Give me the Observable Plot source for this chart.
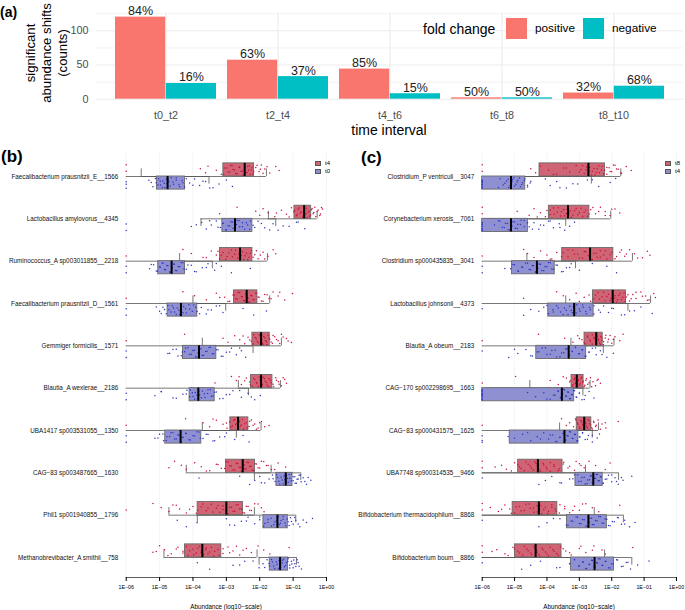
<!DOCTYPE html>
<html><head><meta charset="utf-8">
<script src="https://cdn.jsdelivr.net/npm/d3@7"></script>
<script src="https://cdn.jsdelivr.net/npm/@observablehq/plot@0.6"></script>
<style>
body{margin:0;background:#fff;font-family:"Liberation Sans",Arial,Helvetica,sans-serif;}
#root{position:relative;width:685px;height:610px;overflow:hidden;background:#fff;}
.abs{position:absolute;white-space:nowrap;}
.abs svg{display:block;}
</style></head><body><div id="root"></div>
<script>
// ---------- Panel (a) data ----------
const intervals = ["t0_t2","t2_t4","t4_t6","t6_t8","t8_t10"];
const positiveCounts = [120,57,44,2,9];
const negativeCounts = [23,33,8,2,19];
const countTicks = [0,50,100];
const minorCountTicks = [25,75,125];

// ---------- Panel (b)/(c) shared ----------
const decadeTicks = [1e-6,1e-5,1e-4,1e-3,1e-2,1e-1,1];
const decadeLabels = ["1E\u221206","1E\u221205","1E\u221204","1E\u221203","1E\u221202","1E\u221201","1E+00"];

// ---------- Panel (b): t4 (upper, red) vs t0 (lower, blue); log10 abundance ----------
const bSpecies = ["Faecalibacterium prausnitzii_E__1566","Lactobacillus amylovorus__4345","Ruminococcus_A sp003011855__2218","Faecalibacterium prausnitzii_D__1561","Gemmiger formicilis__1571","Blautia_A wexlerae__2186","UBA1417 sp003531055__1350","CAG\u221283 sp003487665__1630","Phil1 sp001940855__1796","Methanobrevibacter_A smithii__758"];
// [whisker low, Q1, median, Q3, whisker high]
const bT4Box = [[-5.55,-3.09,-2.45,-2.17,-1.8],[-1.74,-0.96,-0.67,-0.46,-0.28],[-4.4,-3.19,-2.59,-2.22,-1.77],[-4.0,-2.77,-2.39,-2.07,-1.7],[-3.72,-2.22,-1.96,-1.70,-1.35],[-2.64,-2.26,-1.96,-1.62,-1.38],[-3.72,-2.88,-2.65,-2.34,-1.96],[-4.2,-3.01,-2.51,-2.14,-1.66],[-4.72,-3.86,-3.0,-2.50,-2.16],[-4.87,-4.24,-3.72,-3.15,-2.08]];
const bT0Box = [[-6,-5.08,-4.76,-4.24,-3.52],[-3.76,-3.12,-2.74,-2.22,-1.52],[-6,-5.04,-4.64,-4.24,-3.42],[-6,-4.76,-4.36,-3.87,-3.02],[-6,-4.30,-3.82,-3.30,-2.2],[-6,-4.10,-3.84,-3.35,-2.34],[-6,-4.83,-4.37,-3.75,-2.70],[-2.16,-1.5,-1.22,-1.02,-0.77],[-3.87,-1.89,-1.47,-1.16,-0.92],[-2.02,-1.70,-1.39,-1.15,-0.9]];
const bT4Pts = [
[-6,-6,-3.78,-3.62,-3.55,-3.3,-3.15,-3.05,-2.95,-2.88,-2.8,-2.72,-2.6,-2.52,-2.47,-2.44,-2.38,-2.31,-2.25,-2.2,-2.12,-2.02,-1.95,-1.85,-1.7,-1.52,-1.42,-3.08,-2.98,-2.9,-2.83,-2.76,-2.68,-2.62,-2.56,-2.5,-2.46,-2.42,-2.36,-2.33,-2.28,-2.23,-2.18,-2.08,-1.98,-1.9,-1.78],
[-3.2,-2.68,-2.12,-2.0,-1.9,-1.75,-1.55,-1.35,-1.2,-1.05,-0.98,-0.9,-0.85,-0.78,-0.72,-0.68,-0.65,-0.6,-0.55,-0.5,-0.45,-0.4,-0.35,-0.28,-0.2,-0.12,-1.5,-1.12,-0.95,-0.88,-0.82,-0.76,-0.7,-0.66,-0.62,-0.58,-0.52,-0.48,-0.43,-0.38,-0.32,-0.25,-0.18,-0.15],
[-6,-4.3,-4.05,-3.7,-3.45,-3.3,-3.2,-3.1,-2.98,-2.85,-2.75,-2.66,-2.6,-2.55,-2.48,-2.4,-2.32,-2.25,-2.15,-2.05,-1.9,-1.75,-1.6,-1.52,-3.6,-3.25,-3.15,-3.02,-2.92,-2.82,-2.72,-2.63,-2.57,-2.52,-2.44,-2.36,-2.28,-2.2,-2.1,-1.98,-1.85],
[-6,-4.3,-3.95,-3.6,-3.3,-3.05,-2.9,-2.8,-2.72,-2.65,-2.55,-2.48,-2.42,-2.38,-2.33,-2.27,-2.2,-2.12,-2.05,-1.95,-1.85,-1.72,-1.6,-1.45,-1.25,-1.02,-3.2,-2.95,-2.76,-2.68,-2.6,-2.52,-2.45,-2.4,-2.35,-2.3,-2.24,-2.17,-2.1,-2.02,-1.9,-1.78,-1.66,-1.4],
[-6,-4.25,-3.1,-2.95,-2.75,-2.6,-2.45,-2.35,-2.25,-2.18,-2.1,-2.04,-1.98,-1.94,-1.9,-1.85,-1.8,-1.75,-1.7,-1.62,-1.55,-1.45,-1.35,-1.2,-1.05,-2.5,-2.3,-2.2,-2.14,-2.07,-2.01,-1.96,-1.92,-1.88,-1.83,-1.78,-1.72,-1.66,-1.6,-1.5,-1.4,-1.3,-1.15],
[-3.34,-2.85,-2.7,-2.55,-2.4,-2.3,-2.22,-2.15,-2.08,-2.02,-1.97,-1.92,-1.86,-1.8,-1.74,-1.68,-1.6,-1.52,-1.44,-1.35,-1.25,-1.2,-2.62,-2.45,-2.28,-2.18,-2.1,-2.04,-1.99,-1.94,-1.9,-1.84,-1.78,-1.72,-1.66,-1.58,-1.5,-1.42,-1.3],
[-6,-4.22,-3.7,-3.5,-3.3,-3.1,-2.98,-2.9,-2.82,-2.75,-2.69,-2.64,-2.6,-2.55,-2.48,-2.4,-2.32,-2.25,-2.15,-2.05,-1.95,-1.72,-3.4,-3.0,-2.86,-2.78,-2.72,-2.67,-2.62,-2.58,-2.52,-2.45,-2.38,-2.3,-2.2,-2.1,-2.0,-1.85],
[-4.72,-4.55,-4.35,-4.2,-3.95,-3.75,-3.5,-3.3,-3.15,-3.0,-2.9,-2.8,-2.7,-2.62,-2.55,-2.5,-2.45,-2.38,-2.3,-2.22,-2.14,-2.05,-1.95,-1.8,-1.65,-1.45,-1.22,-3.6,-3.25,-3.05,-2.95,-2.85,-2.75,-2.66,-2.58,-2.52,-2.47,-2.41,-2.34,-2.27,-2.18,-2.1,-2.0,-1.88,-1.75,-1.55],
[-6,-5.2,-4.95,-4.72,-4.6,-4.4,-4.2,-4.0,-3.85,-3.7,-3.55,-3.4,-3.25,-3.1,-3.0,-2.9,-2.8,-2.7,-2.6,-2.5,-2.4,-2.3,-2.15,-1.95,-1.87,-4.5,-4.1,-3.9,-3.75,-3.6,-3.45,-3.3,-3.2,-3.1,-3.02,-2.95,-2.85,-2.75,-2.65,-2.55,-2.45,-2.35,-2.25,-2.05],
[-5.2,-5.0,-4.85,-4.65,-4.45,-4.3,-4.15,-4.0,-3.9,-3.8,-3.74,-3.68,-3.6,-3.5,-3.38,-3.25,-3.1,-2.95,-2.8,-2.6,-2.4,-2.25,-2.05,-1.88,-1.7,-1.12,-5.1,-4.75,-4.5,-4.3,-4.2,-4.1,-3.98,-3.86,-3.76,-3.7,-3.62,-3.55,-3.45,-3.35,-3.22,-3.1,-2.9,-2.7,-2.5]];
const bT0Pts = [
[-6,-6,-6,-5.32,-5.2,-5.1,-5.03,-4.97,-4.9,-4.84,-4.78,-4.74,-4.68,-4.6,-4.5,-4.42,-4.33,-4.25,-4.1,-3.95,-3.8,-3.62,-3.5,-3.22,-3.0,-2.82,-5.25,-5.12,-5.05,-4.98,-4.92,-4.86,-4.8,-4.76,-4.72,-4.65,-4.58,-4.5,-4.4,-4.3,-4.2,-4.0,-3.7,-3.4],
[-6,-6,-4.05,-3.74,-3.6,-3.45,-3.3,-3.18,-3.1,-3.0,-2.9,-2.82,-2.76,-2.7,-2.62,-2.52,-2.4,-2.3,-2.2,-2.05,-1.85,-1.6,-1.45,-1.12,-0.9,-0.65,-3.9,-3.5,-3.25,-3.1,-3.02,-2.95,-2.86,-2.8,-2.74,-2.68,-2.6,-2.52,-2.45,-2.36,-2.28,-2.15,-1.95,-1.7,-1.3,-0.85],
[-6,-6,-5.3,-5.18,-5.06,-4.98,-4.9,-4.82,-4.75,-4.68,-4.62,-4.56,-4.48,-4.4,-4.3,-4.2,-4.05,-3.9,-3.72,-3.55,-3.35,-3.15,-2.85,-2.28,-5.25,-5.1,-5.0,-4.92,-4.85,-4.78,-4.7,-4.64,-4.58,-4.52,-4.44,-4.35,-4.27,-4.15,-3.95,-3.6,-3.3],
[-6,-6,-5.0,-4.9,-4.8,-4.72,-4.62,-4.55,-4.47,-4.4,-4.35,-4.28,-4.2,-4.1,-3.98,-3.88,-3.75,-3.6,-3.45,-3.3,-3.1,-2.5,-2.18,-1.8,-5.1,-4.95,-4.85,-4.75,-4.66,-4.58,-4.5,-4.42,-4.36,-4.3,-4.22,-4.12,-4.02,-3.92,-3.8,-3.55,-3.2],
[-6,-6,-4.75,-4.6,-4.45,-4.32,-4.22,-4.1,-4.0,-3.92,-3.85,-3.8,-3.72,-3.62,-3.52,-3.42,-3.3,-3.15,-3.0,-2.85,-2.7,-2.55,-2.42,-4.7,-4.5,-4.35,-4.25,-4.15,-4.05,-3.96,-3.88,-3.82,-3.76,-3.68,-3.58,-3.48,-3.38,-3.25,-3.1,-2.9,-2.6],
[-6,-6,-5.14,-4.95,-4.5,-4.3,-4.18,-4.1,-4.02,-3.95,-3.88,-3.82,-3.75,-3.66,-3.55,-3.45,-3.35,-3.2,-3.0,-2.8,-2.55,-2.35,-2.15,-1.98,-4.95,-4.6,-4.2,-4.08,-4.0,-3.93,-3.86,-3.8,-3.72,-3.64,-3.56,-3.48,-3.4,-3.3,-3.1,-2.9,-2.6,-2.25],
[-6,-6,-5.14,-5.0,-4.88,-4.78,-4.66,-4.55,-4.45,-4.38,-4.3,-4.2,-4.08,-3.95,-3.82,-3.7,-3.55,-3.4,-3.2,-3.0,-2.75,-2.5,-2.32,-5.05,-4.9,-4.8,-4.7,-4.6,-4.5,-4.42,-4.36,-4.3,-4.22,-4.12,-4.0,-3.88,-3.78,-3.6,-3.35,-3.05],
[-3.82,-2.3,-2.15,-2.0,-1.85,-1.72,-1.62,-1.54,-1.47,-1.4,-1.33,-1.27,-1.22,-1.17,-1.12,-1.06,-1.0,-0.94,-0.88,-0.82,-0.76,-0.7,-0.6,-0.47,-2.6,-1.95,-1.6,-1.5,-1.43,-1.36,-1.3,-1.25,-1.2,-1.15,-1.1,-1.05,-1.0,-0.95,-0.9,-0.85,-0.78,-0.65,-0.55],
[-4.47,-4.2,-3.88,-3.0,-2.75,-2.55,-2.35,-2.15,-2.0,-1.88,-1.76,-1.66,-1.58,-1.5,-1.44,-1.38,-1.3,-1.22,-1.15,-1.08,-1.0,-0.92,-0.8,-0.6,-0.42,-2.9,-2.4,-2.0,-1.85,-1.75,-1.65,-1.55,-1.48,-1.42,-1.36,-1.3,-1.24,-1.18,-1.12,-1.05,-0.95,-0.85,-0.7],
[-3.87,-3.5,-2.8,-2.45,-2.02,-1.9,-1.78,-1.7,-1.62,-1.55,-1.48,-1.42,-1.38,-1.33,-1.28,-1.22,-1.16,-1.1,-1.04,-0.98,-0.92,-0.85,-0.75,-2.6,-2.2,-1.85,-1.72,-1.65,-1.58,-1.5,-1.44,-1.38,-1.32,-1.26,-1.2,-1.15,-1.1,-1.05,-1.0,-0.95,-0.88,-0.82]];

// ---------- Panel (c): t8 (upper, red) vs t4 (lower, blue) ----------
const cSpecies = ["Clostridium_P ventriculi__3047","Corynebacterium xerosis__7061","Clostridium sp000435835__3041","Lactobacillus johnsonii__4373","Blautia_A obeum__2183","CAG\u2212170 sp002298695__1663","CAG\u221283 sp000431575__1625","UBA7748 sp900314535__9466","Bifidobacterium thermacidophilum__8868","Bifidobacterium boum__8866"];
const cT8Box = [[-6,-4.23,-2.72,-2.21,-1.72],[-6,-3.94,-3.35,-2.69,-2.03],[-4.62,-3.53,-2.67,-1.95,-1.36],[-3.42,-2.58,-1.97,-1.56,-0.8],[-3.26,-2.84,-2.48,-2.28,-1.93],[-4.53,-3.24,-3.08,-2.87,-2.67],[-3.61,-3.08,-2.85,-2.63,-2.41],[-6,-4.89,-4.28,-3.52,-2.81],[-6,-5.06,-4.25,-3.68,-2.54],[-6,-4.99,-4.35,-3.55,-2.22]];
const cT4Box = [[-6,-6,-5.11,-4.67,-2.63],[-6,-6,-5.11,-4.59,-3.42],[-6,-5.08,-4.31,-3.76,-3.12],[-6,-3.96,-3.16,-2.56,-1.5],[-6,-4.33,-3.33,-2.79,-2.26],[-6,-6,-3.54,-3.16,-2.89],[-6,-5.15,-3.46,-3.03,-2.6],[-6,-3.12,-2.57,-2.28,-1.79],[-6,-3.38,-2.72,-2.15,-1.64],[-6,-3.26,-2.53,-1.93,-1.38]];
const cT8Pts = [
[-6,-6,-4.5,-4.35,-4.2,-3.95,-3.7,-3.5,-3.3,-3.1,-2.95,-2.85,-2.78,-2.7,-2.62,-2.55,-2.48,-2.4,-2.32,-2.25,-2.15,-2.05,-1.95,-1.85,-1.72,-1.55,-1.4,-3.8,-3.4,-3.0,-2.9,-2.8,-2.74,-2.68,-2.6,-2.52,-2.45,-2.38,-2.3,-2.22,-2.15,-2.08,-2.0,-1.9,-1.8,-1.7],
[-6,-6,-4.92,-4.55,-4.4,-4.2,-4.05,-3.9,-3.78,-3.65,-3.55,-3.45,-3.38,-3.32,-3.25,-3.15,-3.05,-2.95,-2.85,-2.75,-2.65,-2.5,-2.35,-2.2,-2.05,-1.9,-1.75,-4.3,-4.0,-3.9,-3.8,-3.68,-3.58,-3.48,-3.4,-3.34,-3.28,-3.2,-3.1,-3.0,-2.9,-2.8,-2.7,-2.58,-2.4,-2.2,-2.0],
[-6,-4.72,-4.6,-4.4,-4.2,-4.0,-3.85,-3.7,-3.55,-3.35,-3.15,-3.0,-2.85,-2.72,-2.6,-2.48,-2.35,-2.2,-2.05,-1.9,-1.75,-1.6,-1.45,-1.3,-1.05,-0.9,-0.82,-3.9,-3.5,-3.35,-3.2,-3.05,-2.9,-2.8,-2.7,-2.62,-2.55,-2.45,-2.35,-2.25,-2.15,-2.0,-1.85,-1.7,-1.55,-1.2],
[-4.72,-3.7,-3.5,-3.3,-3.1,-2.85,-2.65,-2.5,-2.38,-2.25,-2.15,-2.05,-1.98,-1.92,-1.85,-1.78,-1.7,-1.62,-1.55,-1.45,-1.35,-1.25,-1.1,-0.95,-0.85,-0.7,-0.65,-3.0,-2.7,-2.55,-2.42,-2.3,-2.2,-2.1,-2.02,-1.96,-1.9,-1.82,-1.74,-1.66,-1.58,-1.5,-1.4,-1.25,-1.05,-0.9],
[-6,-4.26,-3.45,-3.2,-3.05,-2.92,-2.82,-2.74,-2.66,-2.6,-2.54,-2.49,-2.45,-2.4,-2.35,-2.3,-2.25,-2.18,-2.1,-2.0,-1.9,-1.75,-1.65,-3.0,-2.85,-2.75,-2.67,-2.6,-2.55,-2.5,-2.46,-2.42,-2.38,-2.34,-2.3,-2.26,-2.2,-2.12,-2.05,-1.95],
[-6,-4.97,-3.9,-3.65,-3.4,-3.3,-3.22,-3.16,-3.12,-3.08,-3.04,-3.0,-2.95,-2.9,-2.85,-2.8,-2.74,-2.66,-2.58,-2.5,-2.42,-2.35,-3.5,-3.28,-3.2,-3.14,-3.1,-3.06,-3.02,-2.98,-2.93,-2.88,-2.83,-2.78,-2.7,-2.62,-2.45],
[-6,-3.55,-3.3,-3.18,-3.1,-3.04,-2.98,-2.93,-2.88,-2.84,-2.8,-2.75,-2.7,-2.65,-2.6,-2.55,-2.5,-2.42,-2.3,-2.18,-1.8,-3.4,-3.12,-3.06,-3.0,-2.95,-2.9,-2.86,-2.82,-2.78,-2.73,-2.68,-2.62,-2.56,-2.48,-2.35,-2.2],
[-6,-6,-5.4,-5.25,-5.0,-4.85,-4.7,-4.58,-4.48,-4.38,-4.3,-4.22,-4.12,-4.02,-3.9,-3.78,-3.62,-3.48,-3.3,-3.15,-3.0,-2.85,-2.7,-2.5,-2.2,-2.05,-5.6,-5.1,-4.9,-4.8,-4.65,-4.52,-4.42,-4.34,-4.27,-4.2,-4.1,-4.0,-3.9,-3.78,-3.65,-3.5,-3.35,-3.1,-2.95],
[-6,-6,-5.75,-5.5,-5.3,-5.15,-5.0,-4.85,-4.7,-4.55,-4.42,-4.3,-4.2,-4.1,-3.98,-3.85,-3.72,-3.6,-3.45,-3.3,-3.15,-3.0,-2.8,-2.6,-2.4,-1.75,-5.4,-5.1,-4.95,-4.8,-4.65,-4.52,-4.4,-4.3,-4.24,-4.16,-4.05,-3.95,-3.85,-3.75,-3.62,-3.45,-3.2,-2.9],
[-6,-6,-5.55,-5.3,-5.05,-4.9,-4.75,-4.62,-4.5,-4.4,-4.32,-4.25,-4.15,-4.05,-3.95,-3.82,-3.7,-3.58,-3.42,-3.25,-3.0,-2.8,-2.55,-2.3,-2.2,-1.35,-5.7,-5.2,-5.0,-4.85,-4.7,-4.58,-4.47,-4.38,-4.3,-4.22,-4.12,-4.0,-3.9,-3.78,-3.65,-3.5,-3.3,-2.95,-2.6]];
const cT4Pts = [
[-6,-6,-6,-6,-6,-6,-5.45,-5.35,-5.25,-5.18,-5.12,-5.06,-5.0,-4.92,-4.85,-4.78,-4.7,-4.6,-4.52,-4.05,-3.9,-3.7,-3.4,-3.05,-2.75,-2.4,-2.05,-1.88,-6,-6,-5.5,-5.3,-5.2,-5.14,-5.08,-5.02,-4.96,-4.9,-4.82,-4.75,-4.68,-4.6,-4.5,-3.6,-3.2,-2.6],
[-6,-6,-6,-6,-6,-5.62,-5.45,-5.32,-5.22,-5.15,-5.08,-5.0,-4.92,-4.82,-4.7,-4.55,-4.4,-4.25,-4.1,-3.95,-3.8,-3.62,-3.45,-3.3,-3.15,-6,-6,-5.5,-5.38,-5.28,-5.2,-5.12,-5.05,-4.98,-4.9,-4.8,-4.7,-4.6,-4.45,-4.2,-3.9,-3.6],
[-6,-6,-5.12,-5.0,-4.88,-4.75,-4.6,-4.5,-4.42,-4.35,-4.28,-4.2,-4.1,-4.0,-3.9,-3.8,-3.68,-3.55,-3.4,-3.25,-3.0,-2.15,-1.85,-5.3,-5.05,-4.9,-4.78,-4.66,-4.55,-4.45,-4.36,-4.3,-4.24,-4.16,-4.06,-3.95,-3.85,-3.72,-3.5,-3.3,-2.6],
[-6,-4.72,-4.25,-4.1,-3.95,-3.82,-3.7,-3.58,-3.46,-3.35,-3.25,-3.18,-3.1,-3.0,-2.9,-2.8,-2.68,-2.55,-2.4,-2.25,-2.1,-1.95,-1.7,-1.45,-1.1,-0.75,-4.5,-4.0,-3.8,-3.65,-3.5,-3.4,-3.3,-3.22,-3.15,-3.08,-2.98,-2.88,-2.78,-2.66,-2.55,-2.35,-2.0,-1.6,-1.3],
[-6,-5.18,-4.9,-4.65,-4.45,-4.3,-4.15,-4.0,-3.85,-3.7,-3.55,-3.42,-3.32,-3.22,-3.12,-3.0,-2.9,-2.8,-2.7,-2.6,-2.48,-2.35,-2.15,-1.95,-5.0,-4.5,-4.25,-4.05,-3.9,-3.75,-3.6,-3.48,-3.38,-3.3,-3.22,-3.12,-3.02,-2.92,-2.82,-2.7,-2.5,-2.3],
[-6,-6,-6,-6,-6,-6,-6,-4.35,-4.1,-3.9,-3.75,-3.65,-3.58,-3.52,-3.46,-3.4,-3.34,-3.28,-3.22,-3.15,-3.08,-3.0,-2.92,-2.82,-2.7,-2.55,-6,-6,-6,-4.6,-4.0,-3.8,-3.66,-3.58,-3.52,-3.48,-3.42,-3.36,-3.3,-3.24,-3.18,-3.1,-3.0,-2.85],
[-6,-6,-5.0,-4.75,-4.5,-4.3,-4.1,-3.95,-3.82,-3.7,-3.6,-3.5,-3.42,-3.35,-3.28,-3.2,-3.12,-3.05,-2.98,-2.9,-2.82,-2.72,-2.6,-2.45,-2.38,-6,-5.2,-4.6,-4.2,-3.9,-3.72,-3.6,-3.5,-3.44,-3.38,-3.3,-3.22,-3.15,-3.08,-3.0,-2.9,-2.75,-2.6],
[-6,-4.25,-4.05,-3.85,-3.55,-3.3,-3.15,-3.02,-2.92,-2.82,-2.74,-2.66,-2.6,-2.54,-2.48,-2.42,-2.35,-2.28,-2.2,-2.1,-2.0,-1.9,-1.8,-1.65,-1.38,-3.6,-3.2,-3.05,-2.95,-2.85,-2.76,-2.68,-2.62,-2.56,-2.5,-2.44,-2.38,-2.32,-2.26,-2.15,-2.0,-1.85,-1.7],
[-6,-4.25,-4.0,-3.6,-3.35,-3.2,-3.05,-2.95,-2.85,-2.76,-2.7,-2.62,-2.55,-2.45,-2.35,-2.25,-2.15,-2.05,-1.92,-1.8,-1.7,-1.6,-1.45,-1.28,-3.8,-3.4,-3.25,-3.1,-3.0,-2.9,-2.8,-2.74,-2.68,-2.6,-2.5,-2.4,-2.3,-2.2,-2.1,-1.98,-1.82,-1.6],
[-6,-4.78,-4.5,-4.2,-3.7,-3.3,-3.15,-3.0,-2.88,-2.78,-2.68,-2.6,-2.52,-2.44,-2.36,-2.28,-2.18,-2.05,-1.95,-1.82,-1.7,-1.55,-1.42,-1.2,-0.85,-3.6,-3.3,-3.15,-3.02,-2.9,-2.8,-2.7,-2.62,-2.55,-2.48,-2.4,-2.3,-2.2,-2.1,-2.0,-1.85,-1.65,-1.5]];

// ---------- helpers ----------
const FONT = '"Liberation Sans", Arial, Helvetica, sans-serif';
const root = document.getElementById("root");
function place(node, left, top){ const d=document.createElement("div"); d.className="abs"; d.style.left=left+"px"; d.style.top=top+"px"; d.appendChild(node); root.appendChild(d); return d; }
function label(text, left, cy, size, opts={}){
  const d=document.createElement("div"); d.className="abs"; d.textContent=text;
  d.style.fontSize=size+"px"; d.style.lineHeight=size+"px"; d.style.top=(cy-size/2)+"px";
  if(opts.center){ d.style.left=(left-200)+"px"; d.style.width="400px"; d.style.textAlign="center"; } else d.style.left=left+"px";
  if(opts.bold) d.style.fontWeight="bold";
  if(opts.color) d.style.color=opts.color;
  root.appendChild(d); return d;
}
function swatch(left, top, w, h, color, border){
  const d=document.createElement("div"); d.className="abs";
  Object.assign(d.style,{left:left+"px",top:top+"px",width:w+"px",height:h+"px",background:color,boxSizing:"border-box",border:border||"none"});
  root.appendChild(d);
}

// ---------- Panel (a) ----------
const barRows = intervals.flatMap((t,i)=>{
  const tot = positiveCounts[i]+negativeCounts[i];
  return [{interval:t, dir:"positive", n:positiveCounts[i], pct:Math.round(100*positiveCounts[i]/tot)+"%"},
          {interval:t, dir:"negative", n:negativeCounts[i], pct:Math.round(100*negativeCounts[i]/tot)+"%"}];
});
const posRows = barRows.filter(d=>d.dir==="positive"), negRows = barRows.filter(d=>d.dir==="negative");
const aLeft=96, aRight=683, aPadIn=0.1, aPadOut=0.15;
const aStep = (aRight-aLeft)/(intervals.length - aPadIn + 2*aPadOut);
const half = aStep*(1-aPadIn)/2;
const plotA = Plot.plot({
  width:685, height:140, marginLeft:aLeft, marginRight:685-aRight, marginTop:12.5, marginBottom:41.3,
  style:{fontFamily:FONT, background:"transparent", overflow:"visible"},
  x:{domain:intervals, paddingInner:aPadIn, paddingOuter:aPadOut, label:null},
  y:{domain:[0,126], label:null},
  marks:[
    Plot.ruleY(minorCountTicks,{stroke:"#efefef", strokeWidth:0.8}),
    Plot.ruleY(countTicks,{stroke:"#ebebeb", strokeWidth:1.1}),
    Plot.gridX({stroke:"#ebebeb", strokeOpacity:1, strokeWidth:1.1}),
    Plot.barY(posRows,{x:"interval", y:"n", fill:"#F8766D", insetRight:half}),
    Plot.barY(negRows,{x:"interval", y:"n", fill:"#00BFC4", insetLeft:half}),
    Plot.text(posRows,{x:"interval", y:"n", text:"pct", dx:-half/2, dy:-6, fontSize:12.5, fill:"#222"}),
    Plot.text(negRows,{x:"interval", y:"n", text:"pct", dx:half/2, dy:-6, fontSize:12.5, fill:"#222"}),
    Plot.axisX({tickSize:0, tickPadding:12, fontSize:10.8, fill:"#4d4d4d", label:null}),
    Plot.axisY({ticks:countTicks, tickSize:0, tickPadding:8, fontSize:10.8, fill:"#4d4d4d", label:null})
  ]
});
place(plotA, 0, 0);
label("(a)", 0, 12, 14, {bold:true});
label("time interval", 389, 130, 14, {center:true});
{
  const d=document.createElement("div"); d.className="abs";
  Object.assign(d.style,{left:(46.5-60)+"px", top:(53-24)+"px", width:"120px", height:"48px", fontSize:"13.2px", lineHeight:"16px", textAlign:"center", transform:"rotate(-90deg)", whiteSpace:"normal"});
  d.innerHTML="significant<br>abundance shifts<br>(counts)";
  root.appendChild(d);
}
label("fold change", 423, 29, 14);
swatch(506, 18, 21, 21, "#F8766D");
label("positive", 535, 29, 11.8);
swatch(583, 18, 21, 21, "#00BFC4");
label("negative", 612, 29, 11.8);

// ---------- Panels (b) & (c) ----------
function boxPanel(o){
  const h=0.31, st=0.18, E=v=>Math.pow(10,v);
  const boxes=[];
  o.names.forEach((n,i)=>{
    const r=o.upperBox[i], b=o.lowerBox[i];
    boxes.push({i, fill:"#cf6474", lo:r[0],q1:r[1],med:r[2],q3:r[3],hi:r[4], y1:i-h, y2:i, s1:i-st, s2:i});
    boxes.push({i, fill:"#8f90d2", lo:b[0],q1:b[1],med:b[2],q3:b[3],hi:b[4], y1:i, y2:i+h, s1:i, s2:i+st});
  });
  const pts=[];
  const jit=k=>0.1+0.8*((k*0.618034+0.37)%1);
  o.upperPts.forEach((arr,i)=>arr.forEach((v,k)=>pts.push({x:E(v), y:i-h*jit(k), c:"#cc0f3c"})));
  o.lowerPts.forEach((arr,i)=>arr.forEach((v,k)=>pts.push({x:E(v), y:i+h*jit(k), c:"#2f36bf"})));
  return Plot.plot({
    width:o.width, height:470, marginLeft:o.ml, marginRight:o.mr, marginTop:13, marginBottom:33,
    style:{fontFamily:FONT, background:"transparent", overflow:"visible"},
    x:{type:"log", domain:[1e-6,1], label:null},
    y:{domain:[0,9], range:[36,417], label:null},
    marks:[
      Plot.ruleX(decadeTicks,{stroke:"#d4d4d4", strokeDasharray:"1,1.5", strokeWidth:0.6}),
      Plot.ruleY(boxes,{y:"i", x1:d=>E(d.lo), x2:d=>E(d.hi), stroke:"#555", strokeWidth:0.8}),
      Plot.ruleX(boxes.filter(d=>d.lo>-6),{x:d=>E(d.lo), y1:"s1", y2:"s2", stroke:"#555", strokeWidth:0.8}),
      Plot.ruleX(boxes,{x:d=>E(d.hi), y1:"s1", y2:"s2", stroke:"#555", strokeWidth:0.8}),
      Plot.rect(boxes,{x1:d=>E(d.q1), x2:d=>E(d.q3), y1:"y1", y2:"y2", fill:"fill", stroke:"#6a6a6a", strokeWidth:0.9}),
      Plot.dot(pts,{x:"x", y:"y", r:0.75, fill:"c", stroke:null}),
      Plot.ruleX(boxes,{x:d=>E(d.med), y1:"y1", y2:"y2", stroke:"#000", strokeWidth:2}),
      Plot.frame({anchor:"bottom", stroke:"#333", strokeWidth:0.8}),
      Plot.axisX({ticks:decadeTicks, tickFormat:d=>decadeLabels[decadeTicks.indexOf(d)], tickSize:4, tickPadding:4, fontSize:5.3, label:null}),
      Plot.axisY({ticks:d3.range(o.names.length), tickFormat:i=>o.names[i], tickSize:0, tickPadding:8, fontSize:6.3, fill:"#111", label:null})
    ]
  });
}
const plotB = boxPanel({names:bSpecies, upperBox:bT4Box, lowerBox:bT0Box, upperPts:bT4Pts, lowerPts:bT0Pts, width:340, ml:125.7, mr:14});
place(plotB, 0, 140);
const plotC = boxPanel({names:cSpecies, upperBox:cT8Box, lowerBox:cT4Box, upperPts:cT8Pts, lowerPts:cT4Pts, width:345, ml:141.7, mr:9});
place(plotC, 340, 140);

label("(b)", 1, 156, 17, {bold:true});
label("(c)", 361, 157, 17, {bold:true});
label("Abundance (log10\u2212scale)", 226, 607, 6.3, {center:true});
label("Abundance (log10\u2212scale)", 579, 607, 6.3, {center:true});
// legends
swatch(315, 160.5, 5.5, 5.5, "#cf6474", "0.6px solid #555"); label("t4", 325, 163.3, 6);
swatch(315, 168.5, 5.5, 5.5, "#8f90d2", "0.6px solid #555"); label("t0", 325, 171.3, 6);
swatch(665, 160.5, 5.5, 5.5, "#cf6474", "0.6px solid #555"); label("t8", 675, 163.3, 6);
swatch(665, 168.5, 5.5, 5.5, "#8f90d2", "0.6px solid #555"); label("t4", 675, 171.3, 6);
</script></body></html>
